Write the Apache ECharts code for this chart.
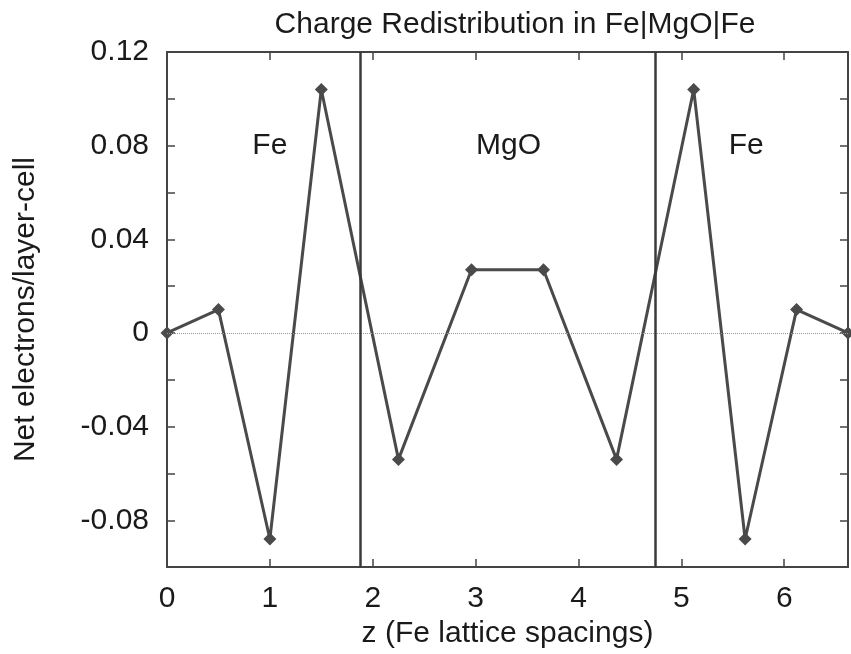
<!DOCTYPE html>
<html>
<head>
<meta charset="UTF-8">
<title>Charge Redistribution in Fe|MgO|Fe</title>
<script type="text/javascript" src="https://cdn.jsdelivr.net/npm/echarts@6/dist/echarts.min.js"></script>
<style>
  html, body { margin: 0; padding: 0; background: #fff; }
</style>
</head>
<body>
<div id="chart" style="width:851px; height:654px"></div>
<script type="text/javascript">
// layer positions (Fe lattice spacings) and net charge per layer-cell
var zPos = [0, 0.5, 1.0, 1.5, 2.25, 2.96, 3.66, 4.37, 5.12, 5.62, 6.12, 6.62];
var netCharge = [0, 0.010, -0.088, 0.104, -0.054, 0.027, 0.027, -0.054, 0.104, -0.088, 0.010, 0];

// Fe/MgO interfaces
var interfaces = [1.875, 4.745];

// region labels
var regionNames = ['Fe', 'MgO', 'Fe'];
var regionX = [1.0, 3.32, 5.63];
var regionY = [0.08, 0.08, 0.08];

var font = 'Liberation Sans, Arial, Helvetica, sans-serif';
var dark = '#444';
var txt = '#1a1a1a';

var myChart = echarts.init(document.getElementById('chart'));

function yLabel(v) {
    var k = v / 0.04;
    if (Math.abs(k - Math.round(k)) > 1e-6) return '';
    if (Math.abs(v) < 1e-9) return '0';
    return v.toFixed(2);
}
function xLabel(v) {
    if (Math.abs(v - Math.round(v)) > 1e-6) return '';
    return String(Math.round(v));
}

var axisBase = {
    type: 'value',
    splitLine: { show: false },
    axisLine: { onZero: false, lineStyle: { color: dark, width: 2 } },
    axisTick: { inside: true, length: 8, lineStyle: { color: dark, width: 1.5 } }
};

var option = {
    animation: false,
    backgroundColor: '#fff',
    title: {
        text: 'Charge Redistribution in Fe|MgO|Fe',
        left: 510,
        textAlign: 'center',
        top: 5,
        textStyle: { fontFamily: font, fontSize: 30, fontWeight: 'normal', color: txt }
    },
    grid: { left: 167, right: 1, top: 52, bottom: 85 },
    xAxis: [
        Object.assign({}, axisBase, {
            min: 0, max: 6.62, interval: 1,
            name: 'z (Fe lattice spacings)',
            nameLocation: 'middle',
            nameGap: 50,
            nameTextStyle: { fontFamily: font, fontSize: 30, color: txt },
            axisLabel: { formatter: xLabel, margin: 17, fontFamily: font, fontSize: 30, color: txt }
        }),
        Object.assign({}, axisBase, {
            position: 'top',
            min: 0, max: 6.62, interval: 1,
            axisLabel: { show: false }
        })
    ],
    yAxis: [
        Object.assign({}, axisBase, {
            min: -0.1, max: 0.12, interval: 0.02,
            name: 'Net electrons/layer-cell',
            nameLocation: 'middle',
            nameGap: 126,
            nameTextStyle: { fontFamily: font, fontSize: 30, color: txt },
            axisLabel: { formatter: yLabel, margin: 18, fontFamily: font, fontSize: 30, color: txt }
        }),
        Object.assign({}, axisBase, {
            position: 'right',
            min: -0.1, max: 0.12, interval: 0.02,
            axisLabel: { show: false }
        })
    ],
    series: [
        {
            type: 'line',
            data: zPos.map(function (z, i) { return [z, netCharge[i]]; }),
            symbol: 'diamond',
            symbolSize: 13,
            clip: false,
            lineStyle: { color: '#4a4a4a', width: 3 },
            itemStyle: { color: '#4a4a4a' },
            markLine: {
                silent: true,
                symbol: 'none',
                label: { show: false },
                data: [
                    { yAxis: 0, lineStyle: { color: '#999', width: 1, type: 'dotted' } }
                ].concat(interfaces.map(function (x) {
                    return { xAxis: x, lineStyle: { color: '#3a3a3a', width: 2.5, type: 'solid' } };
                }))
            },
            z: 3
        },
        {
            type: 'scatter',
            symbolSize: 0,
            silent: true,
            itemStyle: { opacity: 1 },
            data: regionNames.map(function (n, i) { return { name: n, value: [regionX[i], regionY[i]] }; }),
            label: {
                show: true,
                position: 'inside',
                formatter: '{b}',
                fontFamily: font,
                fontSize: 30,
                color: txt,
                opacity: 1,
                textBorderWidth: 0
            }
        }
    ]
};
myChart.setOption(option);
</script>
</body>
</html>
